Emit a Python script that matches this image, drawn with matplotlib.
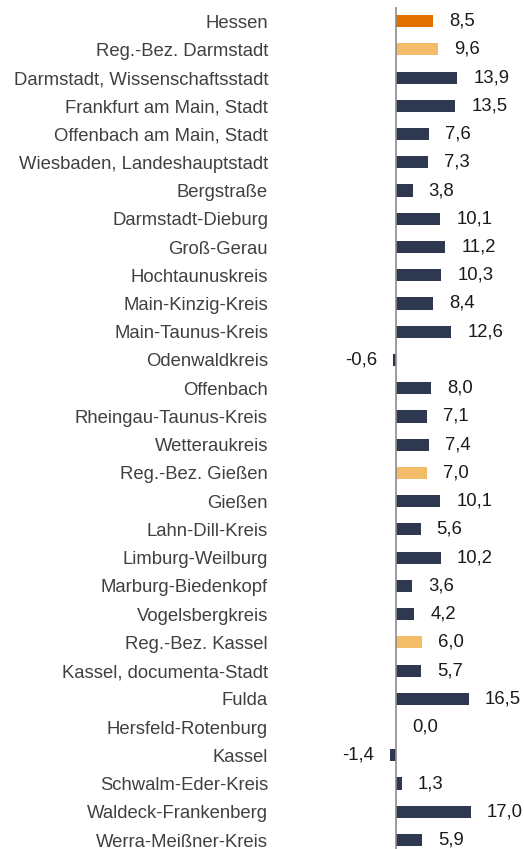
import matplotlib
matplotlib.use("Agg")
import matplotlib.pyplot as plt

plt.rcParams['font.family'] = ['Liberation Sans', 'DejaVu Sans']

regions = [
    "Hessen", "Reg.-Bez. Darmstadt", "Darmstadt, Wissenschaftsstadt",
    "Frankfurt am Main, Stadt", "Offenbach am Main, Stadt",
    "Wiesbaden, Landeshauptstadt", "Bergstraße", "Darmstadt-Dieburg",
    "Groß-Gerau", "Hochtaunuskreis", "Main-Kinzig-Kreis", "Main-Taunus-Kreis",
    "Odenwaldkreis", "Offenbach", "Rheingau-Taunus-Kreis", "Wetteraukreis",
    "Reg.-Bez. Gießen", "Gießen", "Lahn-Dill-Kreis", "Limburg-Weilburg",
    "Marburg-Biedenkopf", "Vogelsbergkreis", "Reg.-Bez. Kassel",
    "Kassel, documenta-Stadt", "Fulda", "Hersfeld-Rotenburg", "Kassel",
    "Schwalm-Eder-Kreis", "Waldeck-Frankenberg", "Werra-Meißner-Kreis",
]
values = [
    8.5, 9.6, 13.9, 13.5, 7.6, 7.3, 3.8, 10.1, 11.2, 10.3, 8.4, 12.6,
    -0.6, 8.0, 7.1, 7.4, 7.0, 10.1, 5.6, 10.2, 3.6, 4.2, 6.0, 5.7,
    16.5, 0.0, -1.4, 1.3, 17.0, 5.9,
]
# level: land / regierungsbezirk / kreis
levels = ["land", "rb"] + ["kreis"] * 14 + ["rb"] + ["kreis"] * 5 + ["rb"] + ["kreis"] * 7

colors = {"land": "#E07000", "rb": "#F2BC68", "kreis": "#2E3850"}

W, H, DPI = 524, 849, 100
fig = plt.figure(figsize=(W / DPI, H / DPI), dpi=DPI)

ax_left, ax_right, ax_top = 386, 524, 7
ax = fig.add_axes([ax_left / W, 0, (ax_right - ax_left) / W, 1 - ax_top / H])

px_per_unit = 4.4
x0 = -(396 - ax_left) / px_per_unit
ax.set_xlim(x0, x0 + (ax_right - ax_left) / px_per_unit)

n = len(regions)
row_px = (840 - 21) / (n - 1)
ax.set_ylim(n - 1 + (H - 840) / row_px, -0.5)

ypos = list(range(n))
ax.barh(ypos, values, height=0.43, color=[colors[l] for l in levels],
        edgecolor='none')
ax.axvline(0, color='#8C8C8C', lw=1.2)

fs = 13.3
gap = 16 / px_per_unit
for y, v in zip(ypos, values):
    txt = f"{v:.1f}".replace(".", ",")
    if v < 0:
        ax.text(v - gap, y, txt, ha='right', va='center', fontsize=fs,
                color='#1A1A1A', clip_on=False)
    else:
        ax.text(v + gap, y, txt, ha='left', va='center', fontsize=fs,
                color='#1A1A1A', clip_on=False)

ax.set_yticks(ypos)
ax.set_yticklabels(regions, fontsize=fs, color='#404040')
ax.tick_params(axis='y', length=0, pad=(ax_left - 268) * 72 / DPI)
ax.set_xticks([])
for s in ax.spines.values():
    s.set_visible(False)

fig.savefig("out.png", dpi=DPI)
